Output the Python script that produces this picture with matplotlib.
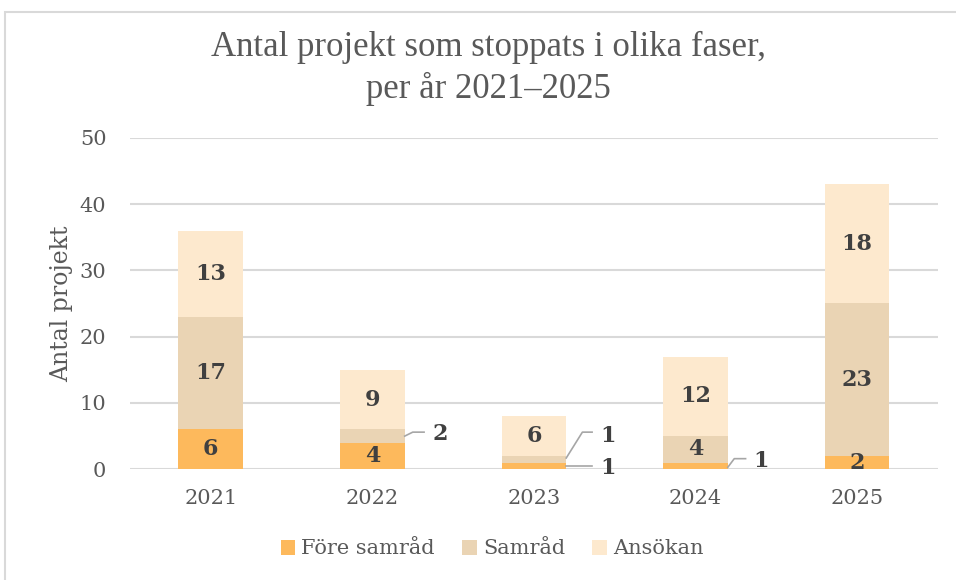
import numpy as np
from matplotlib import pyplot as plt
from matplotlib.patches import Rectangle

years = ['2021', '2022', '2023', '2024', '2025']
fore_samrad = [6, 4, 1, 1, 2]
samrad = [17, 2, 1, 4, 23]
ansokan = [13, 9, 6, 12, 18]
series_names = ['Före samråd', 'Samråd', 'Ansökan']
colors = ['#FDB95C', '#EAD4B4', '#FDE9CE']

text_grey = '#595959'
label_dark = '#404040'
line_grey = '#A6A6A6'

plt.rcParams['font.family'] = ['DejaVu Serif']

fig = plt.figure(figsize=(9.56, 5.8), dpi=100)
ax = fig.add_axes([0.136, 0.1909, 0.845, 0.5717])

# outer frame like the excel chart area
fig.patches.append(Rectangle((5 / 956, -0.1), 1.2, (580 - 12) / 580 + 0.1,
                             transform=fig.transFigure, fill=False,
                             edgecolor='#D9D9D9', linewidth=1.5))

x = np.arange(len(years))
w = 0.4
data = [fore_samrad, samrad, ansokan]
bottom = np.zeros(len(years))
for vals, name, c in zip(data, series_names, colors):
    ax.bar(x, vals, w, bottom=bottom, color=c, label=name, zorder=3)
    bottom += np.array(vals)

# labels inside bars (only where there is room)
def inside(i, base, v):
    ax.text(x[i], base + v / 2, str(v), ha='center', va='center',
            fontsize=16, fontweight='bold', color=label_dark, zorder=5)

def callout(i, v, pts, ty):
    # pts: offsets from bar centre for the leader polyline
    xs = [x[i] + p[0] for p in pts]
    ys = [p[1] for p in pts]
    ax.plot(xs, ys, color=line_grey, lw=1.2, zorder=4)
    ax.text(xs[-1] + 0.05, ty, str(v), ha='left', va='center',
            fontsize=16, fontweight='bold', color=label_dark, zorder=5)

base = np.zeros(len(years))
for s, vals in enumerate(data):
    for i, v in enumerate(vals):
        if v >= 2 and not (s == 1 and i == 1):
            inside(i, base[i], v)
    base += np.array(vals)

# small segments get leader lines
callout(1, samrad[1], [(0.2, 5.0), (0.25, 5.6), (0.32, 5.6)], 5.3)
callout(2, samrad[2], [(0.2, 1.7), (0.3, 5.6), (0.36, 5.6)], 5.0)
callout(2, fore_samrad[2], [(0.2, 0.5), (0.36, 0.5)], 0.2)
callout(3, fore_samrad[3], [(0.2, 0.3), (0.24, 1.6), (0.31, 1.6)], 1.3)

ax.set_xlim(-0.5, len(years) - 0.5)
ax.set_ylim(0, 50)
ax.set_yticks(range(0, 51, 10))
ax.set_xticks(x)
ax.set_xticklabels(years)
ax.grid(axis='y', color='#D9D9D9', lw=1.5, zorder=0)
ax.set_axisbelow(True)
for sp in ax.spines.values():
    sp.set_visible(False)
ax.tick_params(length=0, labelsize=15, colors=text_grey, pad=14)
ax.tick_params(axis='y', pad=17)
ax.set_ylabel('Antal projekt', fontsize=17, color=text_grey, labelpad=5)

fig.text(0.511, 0.882, 'Antal projekt som stoppats i olika faser,\nper år 2021–2025',
         ha='center', va='center', fontsize=25, color=text_grey,
         family='Liberation Serif', linespacing=1.3)

leg = fig.legend(loc='center', bbox_to_anchor=(492 / 956, 31 / 580),
                 ncol=3, frameon=False, fontsize=15, handlelength=0.7,
                 handleheight=0.7, handletextpad=0.3, columnspacing=1.3)
for t in leg.get_texts():
    t.set_color(text_grey)

fig.savefig('out.png', dpi=100)
